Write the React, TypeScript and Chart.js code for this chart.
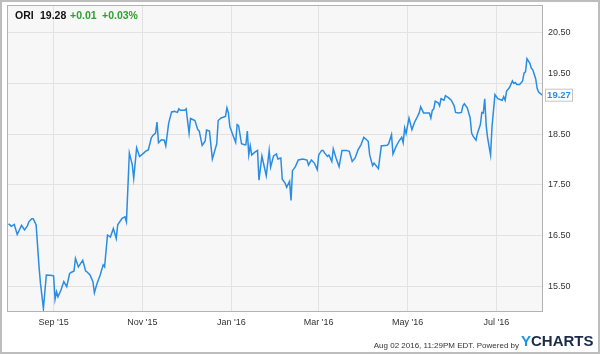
import React, { useEffect, useRef } from "react";
import { Chart, registerables } from "chart.js";

Chart.register(...registerables);

// Days since Sep 1, 2015
const days: number[] = [
  -31, -30, -29, -27, -25, -24, -22, -20, -18, -17,
  -15, -14, -12, -10, -9, -7, -5, -1, 0, 1,
  2, 3, 5, 7, 9, 11, 12, 14, 15, 17,
  20, 22, 23, 25, 27, 28, 30, 32, 34, 35,
  37, 39, 41, 43, 44, 47, 49, 50, 52, 54,
  55, 57, 59, 62, 63, 65, 67, 68, 70, 71,
  72, 74, 76, 77, 79, 81, 83, 85, 86, 87,
  90, 91, 93, 94, 97, 99, 100, 102, 104, 105,
  107, 109, 111, 112, 113, 115, 118, 119, 120, 121,
  123, 125, 126, 127, 129, 131, 132, 133, 134, 135,
  136, 138, 140, 141, 143, 146, 148, 149, 151, 153,
  154, 156, 157, 159, 160, 162, 163, 164, 166, 168,
  171, 174, 175, 177, 179, 181, 182, 184, 185, 186,
  188, 189, 191, 192, 194, 196, 198, 201, 203, 205,
  207, 209, 211, 213, 216, 217, 219, 220, 223, 225,
  226, 229, 230, 232, 233, 235, 237, 239, 240, 241,
  242, 244, 246, 248, 249, 251, 252, 254, 257, 258,
  259, 260, 261, 262, 264, 265, 266, 268, 269, 271,
  273, 275, 276, 278, 280, 281, 282, 284, 286, 287,
  288, 290, 291, 293, 294, 295, 296, 297, 298, 300,
  301, 303, 305, 307, 308, 309, 310, 311, 313, 315,
  316, 317, 318, 320, 322, 323, 324, 325, 327, 328,
  329, 331, 332, 333, 335, 336,
];

const prices: number[] = [
  16.73, 16.71, 16.68, 16.72, 16.52, 16.58, 16.7, 16.61, 16.69, 16.77,
  16.83, 16.83, 16.71, 15.88, 15.55, 15.06, 15.72, 15.71, 15.7, 15.24,
  15.39, 15.29, 15.42, 15.59, 15.49, 15.75, 15.77, 15.8, 16.05, 15.88,
  16.01, 15.8, 15.78, 15.72, 15.59, 15.37, 15.57, 15.72, 15.92, 15.88,
  16.51, 16.47, 16.64, 16.44, 16.71, 16.84, 16.87, 16.77, 18.13, 17.9,
  17.63, 18.23, 18.06, 18.13, 18.16, 18.19, 18.42, 18.47, 18.52, 18.74,
  18.33, 18.39, 18.38, 18.27, 18.72, 18.94, 18.95, 18.93, 19.0, 18.97,
  18.97, 19.0, 18.52, 18.81, 18.77, 18.59, 18.56, 18.28, 18.36, 18.58,
  18.56, 18.01, 18.21, 18.31, 18.77, 18.82, 18.85, 19.02, 18.92, 18.65,
  18.49, 18.34, 18.69, 18.67, 18.31, 18.29, 18.29, 18.56, 18.09, 18.27,
  18.09, 18.14, 18.18, 17.59, 18.07, 17.68, 18.18, 17.85, 18.07, 18.11,
  18.01, 18.03, 17.61, 17.53, 17.45, 17.57, 17.19, 17.78, 17.86, 17.99,
  18.01, 17.99, 17.89, 17.99, 17.93, 17.8, 18.09, 18.18, 18.18, 18.13,
  18.06, 18.09, 17.96, 18.21, 18.02, 17.86, 18.18, 18.18, 18.16, 17.96,
  18.03, 18.19, 18.29, 18.44, 18.36, 18.09, 17.88, 17.93, 17.82, 18.27,
  18.27, 18.28, 18.31, 18.49, 18.11, 18.25, 18.36, 18.44, 18.33, 18.62,
  18.51, 18.82, 18.59, 18.75, 18.8, 18.92, 19.04, 18.92, 18.92, 18.92,
  18.82, 18.97, 19.0, 19.15, 19.12, 19.06, 19.2, 19.17, 19.26, 19.22,
  19.17, 19.06, 18.93, 18.92, 18.93, 19.06, 19.1, 19.02, 18.82, 18.52,
  18.46, 18.38, 18.52, 18.69, 18.93, 18.92, 19.2, 18.67, 18.42, 18.09,
  18.65, 19.28, 19.2, 19.18, 19.17, 19.24, 19.17, 19.35, 19.42, 19.55,
  19.5, 19.52, 19.48, 19.48, 19.55, 19.71, 19.73, 19.99, 19.9, 19.8,
  19.77, 19.59, 19.4, 19.33, 19.28, 19.27,
];

const monthTickDays: number[] = [0, 61, 122, 182, 243, 304];
const monthTickLabels: string[] = ["Sep '15", "Nov '15", "Jan '16", "Mar '16", "May '16", "Jul '16"];
const priceTicks: number[] = [15.5, 16.5, 17.5, 18.5, 19.5, 20.5];

const ticker = "ORI";
const lastClose = "19.28";
const change = "+0.01";
const changePct = "+0.03%";
const lastValueLabel = "19.27";
const footerText = "Aug 02 2016, 11:29PM EDT. Powered by";

const LINE_BLUE = "#2a8de4";
const FONT = "'Liberation Sans', Arial, sans-serif";

export default function App() {
  const ref = useRef<HTMLCanvasElement | null>(null);

  useEffect(() => {
    document.body.style.margin = "0";
    const canvas = ref.current;
    if (!canvas) return;

    const decor = {
      id: "decor",
      beforeDraw(chart: any) {
        const { ctx, chartArea: a } = chart;
        ctx.save();
        ctx.fillStyle = "#ffffff";
        ctx.fillRect(0, 0, chart.width, chart.height);
        ctx.fillStyle = "#f7f7f7";
        ctx.fillRect(a.left, a.top, a.right - a.left, a.bottom - a.top);
        ctx.restore();
      },
      afterDraw(chart: any) {
        const { ctx, chartArea: a, scales } = chart;
        ctx.save();
        // plot frame
        ctx.strokeStyle = "#b3b3b3";
        ctx.lineWidth = 1;
        ctx.strokeRect(a.left + 0.5, a.top + 0.5, a.right - a.left - 1, a.bottom - a.top - 1);
        // outer frame
        ctx.strokeStyle = "#bdbdbd";
        ctx.lineWidth = 2;
        ctx.strokeRect(1, 1, chart.width - 2, chart.height - 2);

        // header
        ctx.textBaseline = "middle";
        ctx.textAlign = "left";
        ctx.font = `bold 10.5px ${FONT}`;
        ctx.fillStyle = "#111111";
        ctx.fillText(ticker, 15, 16);
        ctx.fillText(lastClose, 40, 16);
        ctx.fillStyle = "#2ea02e";
        ctx.fillText(change, 70, 16);
        ctx.fillText(changePct, 102, 16);

        // shifted 19.50 label
        const y = scales.y;
        ctx.font = `9px ${FONT}`;
        ctx.fillStyle = "#333333";
        ctx.fillText("19.50", a.right + 5, y.getPixelForValue(19.5) - 10);

        // last value box
        const ly = y.getPixelForValue(prices[prices.length - 1]);
        ctx.fillStyle = "#ffffff";
        ctx.fillRect(545, ly - 6.5, 28, 13);
        ctx.strokeStyle = "#c4c4c4";
        ctx.lineWidth = 1;
        ctx.strokeRect(545.5, ly - 6, 27, 12);
        ctx.font = `bold 9.5px ${FONT}`;
        ctx.fillStyle = LINE_BLUE;
        ctx.textAlign = "center";
        ctx.fillText(lastValueLabel, 559, ly + 0.5);

        // footer
        ctx.textAlign = "right";
        ctx.font = `8px ${FONT}`;
        ctx.fillStyle = "#333333";
        ctx.fillText(footerText, 519, 346);
        ctx.textAlign = "left";
        ctx.font = `bold 15px ${FONT}`;
        ctx.fillStyle = "#1e93e6";
        ctx.fillText("Y", 521, 342);
        const yw = ctx.measureText("Y").width;
        ctx.fillStyle = "#1b2a4a";
        ctx.fillText("CHARTS", 521 + yw, 342);
        ctx.restore();
      },
    };

    const chart = new Chart(canvas, {
      type: "line",
      data: {
        datasets: [
          {
            data: days.map((d, i) => ({ x: d, y: prices[i] })),
            borderColor: LINE_BLUE,
            borderWidth: 1.5,
            pointRadius: 0,
            tension: 0,
            fill: false,
          },
        ],
      },
      options: {
        animation: false,
        responsive: false,
        maintainAspectRatio: false,
        layout: { padding: { left: 7, top: 5, right: 0, bottom: 0 } },
        plugins: { legend: { display: false }, tooltip: { enabled: false } },
        scales: {
          x: {
            type: "linear",
            min: -32,
            max: 336,
            afterBuildTicks: (s: any) => {
              s.ticks = monthTickDays.map((v) => ({ value: v }));
            },
            afterFit: (s: any) => {
              s.height = 42;
              s.paddingLeft = 0;
              s.paddingRight = 0;
            },
            ticks: {
              autoSkip: false,
              maxRotation: 0,
              padding: 5,
              color: "#333333",
              font: { family: FONT, size: 9 },
              callback: (v: any) => {
                const i = monthTickDays.indexOf(Number(v));
                return i >= 0 ? monthTickLabels[i] : "";
              },
            },
            grid: { color: "#e2e2e2", drawTicks: false },
            border: { display: false },
          },
          y: {
            position: "right",
            min: 14.99,
            max: 21.05,
            afterBuildTicks: (s: any) => {
              s.ticks = priceTicks.map((v) => ({ value: v }));
            },
            afterFit: (s: any) => {
              s.width = 57;
              s.paddingTop = 0;
              s.paddingBottom = 0;
            },
            ticks: {
              padding: 5,
              color: "#333333",
              font: { family: FONT, size: 9 },
              callback: (v: any) => (Number(v) === 19.5 ? "" : Number(v).toFixed(2)),
            },
            grid: { color: "#e2e2e2", drawTicks: false },
            border: { display: false },
          },
        },
      },
      plugins: [decor],
    } as any);

    return () => chart.destroy();
  }, []);

  return (
    <div style={{ position: "absolute", left: 0, top: 0, width: 600, height: 354 }}>
      <canvas ref={ref} width={600} height={354} style={{ width: 600, height: 354, display: "block" }} />
    </div>
  );
}
